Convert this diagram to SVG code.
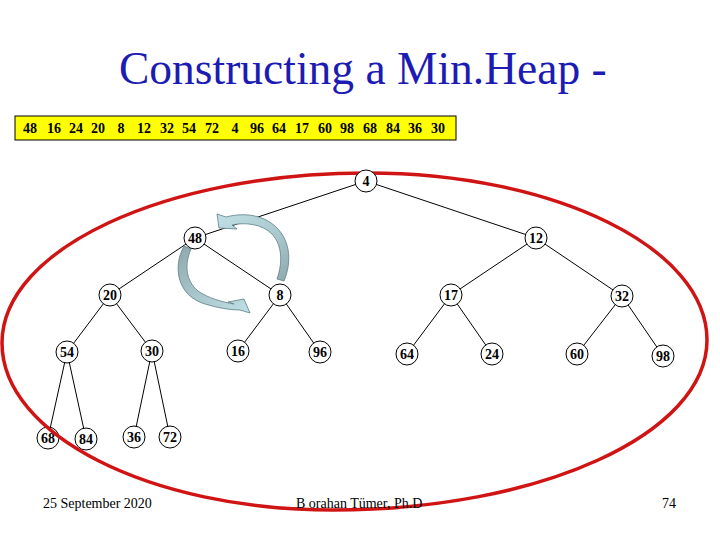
<svg xmlns="http://www.w3.org/2000/svg" width="720" height="540" viewBox="0 0 720 540">
<style>
.t{font-family:"Liberation Serif","Times New Roman",serif}
.n circle{fill:#fff;stroke:#000;stroke-width:1}
.n text{font-family:"Liberation Serif","Times New Roman",serif;font-weight:bold;font-size:14px;text-anchor:middle}
.arr text{font-family:"Liberation Serif","Times New Roman",serif;font-weight:bold;font-size:14px;text-anchor:middle}
#edges line{stroke:#000;stroke-width:1}
.ft{font-family:"Liberation Serif","Times New Roman",serif;font-size:14px}
.swap{stroke:#5f7f86;stroke-width:0.8}
</style>
<defs>
<linearGradient id="g1" x1="0" y1="0" x2="1" y2="1">
<stop offset="0" stop-color="#bfe0e6"/>
<stop offset="0.6" stop-color="#a9c7cd"/>
<stop offset="1" stop-color="#8ea8ad"/>
</linearGradient>
<linearGradient id="g2" x1="0" y1="0" x2="1" y2="1">
<stop offset="0" stop-color="#8ea8ad"/>
<stop offset="0.5" stop-color="#a9c7cd"/>
<stop offset="1" stop-color="#bfe0e6"/>
</linearGradient>
</defs>
<rect width="720" height="540" fill="#fff"/>
<text class="t" x="119" y="84" font-size="45.5" fill="#1c1cb4">Constructing a Min.Heap -</text>
<g id="array">
<rect x="15" y="116" width="441" height="24" fill="#ffff00" stroke="#000" stroke-width="1"/>
<g class="arr">
<text x="30" y="133">48</text><text x="54" y="133">16</text><text x="76" y="133">24</text><text x="98" y="133">20</text><text x="121" y="133">8</text><text x="144" y="133">12</text><text x="167" y="133">32</text><text x="189" y="133">54</text><text x="212" y="133">72</text><text x="235" y="133">4</text><text x="257" y="133">96</text><text x="279" y="133">64</text><text x="302" y="133">17</text><text x="325" y="133">60</text><text x="347" y="133">98</text><text x="370" y="133">68</text><text x="393" y="133">84</text><text x="415" y="133">36</text><text x="438" y="133">30</text>
</g>
</g>
<g id="edges">
<line x1="366" y1="181" x2="195" y2="238"/>
<line x1="366" y1="181" x2="536" y2="238"/>
<line x1="195" y1="238" x2="110" y2="295"/>
<line x1="195" y1="238" x2="280" y2="295"/>
<line x1="536" y1="238" x2="451" y2="295"/>
<line x1="536" y1="238" x2="622" y2="296"/>
<line x1="110" y1="295" x2="67" y2="352"/>
<line x1="110" y1="295" x2="152" y2="351"/>
<line x1="280" y1="295" x2="238" y2="351"/>
<line x1="280" y1="295" x2="320" y2="352"/>
<line x1="451" y1="295" x2="407" y2="354"/>
<line x1="451" y1="295" x2="492" y2="354"/>
<line x1="622" y1="296" x2="577" y2="354"/>
<line x1="622" y1="296" x2="663" y2="356"/>
<line x1="67" y1="352" x2="48" y2="438"/>
<line x1="67" y1="352" x2="86" y2="439"/>
<line x1="152" y1="351" x2="134" y2="437"/>
<line x1="152" y1="351" x2="170" y2="437"/>
</g>
<g id="swap-arrows">
<path class="swap" fill="url(#g1)" d="M 277,279 C 283,262 282,245 272,234 C 262,224 245,222 232,225 L 237,229 L 219,228 L 217,214 L 226,217 C 245,212 265,215 278,229 C 290,242 292,262 284,281 Z"/>
<path class="swap" fill="url(#g2)" d="M 184,246 C 172,268 178,296 205,304 C 218,308 230,310 240,310 L 250,313 L 244,299 L 228,302 L 234,304 C 222,302 208,298 198,291 C 186,281 184,265 191,249 Z"/>
</g>
<g id="n48" class="n"><circle cx="195" cy="238" r="11"/><text x="195" y="243">48</text></g>
<g id="n12" class="n"><circle cx="536" cy="238" r="11"/><text x="536" y="243">12</text></g>
<g id="n20" class="n"><circle cx="110" cy="295" r="11"/><text x="110" y="300">20</text></g>
<g id="n8" class="n"><circle cx="280" cy="295" r="11"/><text x="280" y="300">8</text></g>
<g id="n17" class="n"><circle cx="451" cy="295" r="11"/><text x="451" y="300">17</text></g>
<g id="n32" class="n"><circle cx="622" cy="296" r="11"/><text x="622" y="301">32</text></g>
<g id="n54" class="n"><circle cx="67" cy="352" r="11"/><text x="67" y="357">54</text></g>
<g id="n30" class="n"><circle cx="152" cy="351" r="11"/><text x="152" y="356">30</text></g>
<g id="n16" class="n"><circle cx="238" cy="351" r="11"/><text x="238" y="356">16</text></g>
<g id="n96" class="n"><circle cx="320" cy="352" r="11"/><text x="320" y="357">96</text></g>
<g id="n64" class="n"><circle cx="407" cy="354" r="11"/><text x="407" y="359">64</text></g>
<g id="n24" class="n"><circle cx="492" cy="354" r="11"/><text x="492" y="359">24</text></g>
<g id="n60" class="n"><circle cx="577" cy="354" r="11"/><text x="577" y="359">60</text></g>
<g id="n98" class="n"><circle cx="663" cy="356" r="11"/><text x="663" y="361">98</text></g>
<g id="n68" class="n"><circle cx="48" cy="438" r="11"/><text x="48" y="443">68</text></g>
<g id="n84" class="n"><circle cx="86" cy="439" r="11"/><text x="86" y="444">84</text></g>
<g id="n36" class="n"><circle cx="134" cy="437" r="11"/><text x="134" y="442">36</text></g>
<g id="n72" class="n"><circle cx="170" cy="437" r="11"/><text x="170" y="442">72</text></g>
<path id="ellipse" fill="none" stroke="#d01414" stroke-width="3.5" d="M 2,343 C 2,249 165,173 367,173 C 555,173 707,248 707,340 C 707,434 540,510 333,510 C 150,510 2,435 2,343 Z"/>
<g id="n4" class="n"><circle cx="366" cy="181" r="11"/><text x="366" y="186">4</text></g>
<g id="footer">
<text class="ft" x="43" y="508">25 September 2020</text>
<text class="ft" x="296" y="508">B orahan Tümer, Ph.D</text>
<text class="ft" x="676" y="508" text-anchor="end">74</text>
</g>
</svg>
